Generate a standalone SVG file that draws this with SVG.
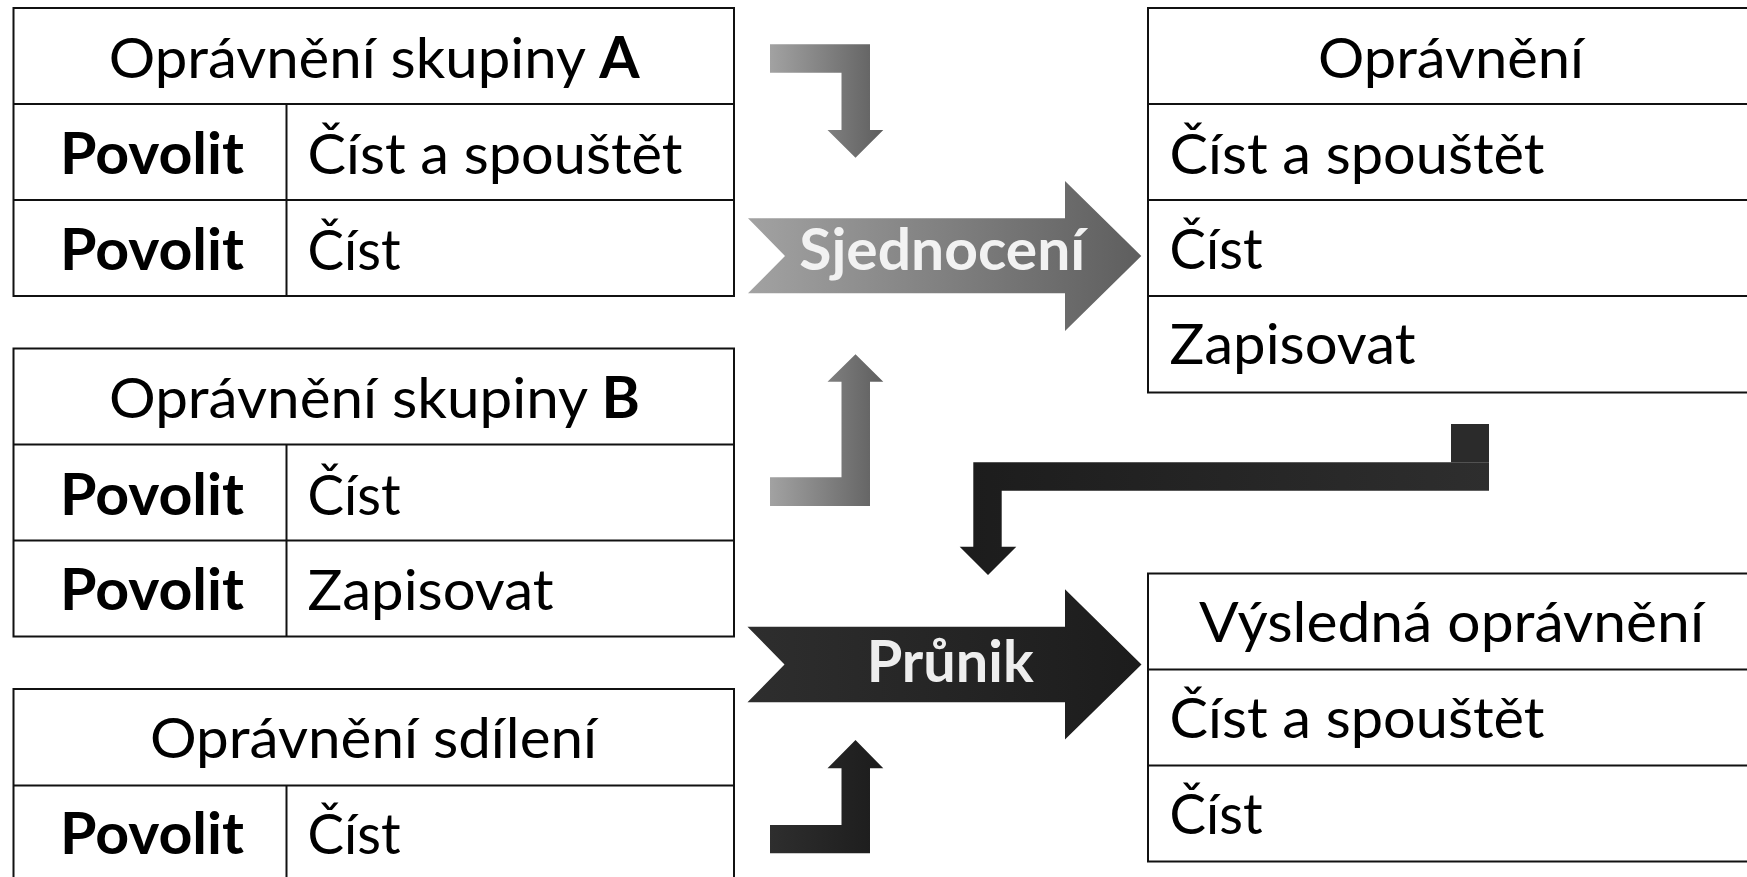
<svg xmlns="http://www.w3.org/2000/svg" width="1747" height="877" viewBox="0 0 1747 877">
  <defs>
    <linearGradient id="gLight" x1="0" y1="0" x2="1" y2="0">
      <stop offset="0" stop-color="#a2a2a2"/>
      <stop offset="1" stop-color="#5e5e5e"/>
    </linearGradient>
    <linearGradient id="gDark" x1="0" y1="0" x2="1" y2="0">
      <stop offset="0" stop-color="#2e2e2e"/>
      <stop offset="1" stop-color="#1c1c1c"/>
    </linearGradient>
    <linearGradient id="gDarkRev" x1="0" y1="0" x2="1" y2="0">
      <stop offset="0" stop-color="#1c1c1c"/>
      <stop offset="1" stop-color="#2e2e2e"/>
    </linearGradient>
    <style>
      .tbl { fill: #ffffff; stroke: #111111; stroke-width: 2; }
      .ln { stroke: #111111; stroke-width: 2; }
      .t { font-family: Lato, "Liberation Sans", sans-serif; font-size: 57px; fill: #000000; }
      .b { font-weight: bold; }
      .op { font-family: Lato, "Liberation Sans", sans-serif; font-size: 57px; font-weight: bold; }
    </style>
  </defs>
  <rect width="1747" height="877" fill="#ffffff"/>

  <!-- group A permissions -->
  <g id="table-group-a">
    <rect class="tbl" x="13.5" y="8" width="720.5" height="288"/>
    <line class="ln" x1="13.5" y1="104" x2="734" y2="104"/>
    <line class="ln" x1="13.5" y1="200" x2="734" y2="200"/>
    <line class="ln" x1="286.5" y1="104" x2="286.5" y2="296"/>
    <text class="t" x="108.7" y="77.5" textLength="531" lengthAdjust="spacingAndGlyphs">Oprávnění skupiny <tspan class="b">A</tspan></text>
    <text class="t b" x="60" y="174" textLength="184" lengthAdjust="spacingAndGlyphs">Povolit</text>
    <text class="t" x="307.5" y="174" textLength="375" lengthAdjust="spacingAndGlyphs">Číst a spouštět</text>
    <text class="t b" x="60" y="270" textLength="184" lengthAdjust="spacingAndGlyphs">Povolit</text>
    <text class="t" x="307.5" y="270" textLength="93" lengthAdjust="spacingAndGlyphs">Číst</text>
  </g>

  <!-- group B permissions -->
  <g id="table-group-b">
    <rect class="tbl" x="13.5" y="348.5" width="720.5" height="288"/>
    <line class="ln" x1="13.5" y1="444.5" x2="734" y2="444.5"/>
    <line class="ln" x1="13.5" y1="540.5" x2="734" y2="540.5"/>
    <line class="ln" x1="286.5" y1="444.5" x2="286.5" y2="636.5"/>
    <text class="t" x="109" y="418" textLength="531" lengthAdjust="spacingAndGlyphs">Oprávnění skupiny <tspan class="b">B</tspan></text>
    <text class="t b" x="60" y="514.5" textLength="184" lengthAdjust="spacingAndGlyphs">Povolit</text>
    <text class="t" x="307.5" y="514.5" textLength="93" lengthAdjust="spacingAndGlyphs">Číst</text>
    <text class="t b" x="60" y="610" textLength="184" lengthAdjust="spacingAndGlyphs">Povolit</text>
    <text class="t" x="307.5" y="610" textLength="246" lengthAdjust="spacingAndGlyphs">Zapisovat</text>
  </g>

  <!-- share permissions -->
  <g id="table-share">
    <rect class="tbl" x="13.5" y="689" width="720.5" height="194"/>
    <line class="ln" x1="13.5" y1="785.5" x2="734" y2="785.5"/>
    <line class="ln" x1="286.5" y1="785.5" x2="286.5" y2="883"/>
    <text class="t" x="150" y="757.5" textLength="447" lengthAdjust="spacingAndGlyphs">Oprávnění sdílení</text>
    <text class="t b" x="60" y="853.5" textLength="184" lengthAdjust="spacingAndGlyphs">Povolit</text>
    <text class="t" x="307.5" y="853.5" textLength="93" lengthAdjust="spacingAndGlyphs">Číst</text>
  </g>

  <!-- union result -->
  <g id="table-union">
    <rect class="tbl" x="1148" y="8" width="620" height="384.5"/>
    <line class="ln" x1="1148" y1="104" x2="1768" y2="104"/>
    <line class="ln" x1="1148" y1="200" x2="1768" y2="200"/>
    <line class="ln" x1="1148" y1="296" x2="1768" y2="296"/>
    <text class="t" x="1318" y="77.5" textLength="266" lengthAdjust="spacingAndGlyphs">Oprávnění</text>
    <text class="t" x="1169.5" y="173.5" textLength="375" lengthAdjust="spacingAndGlyphs">Číst a spouštět</text>
    <text class="t" x="1169.5" y="268.5" textLength="93" lengthAdjust="spacingAndGlyphs">Číst</text>
    <text class="t" x="1169.5" y="363.5" textLength="246" lengthAdjust="spacingAndGlyphs">Zapisovat</text>
  </g>

  <!-- final effective permissions -->
  <g id="table-result">
    <rect class="tbl" x="1148" y="573.5" width="620" height="288"/>
    <line class="ln" x1="1148" y1="669.5" x2="1768" y2="669.5"/>
    <line class="ln" x1="1148" y1="765.5" x2="1768" y2="765.5"/>
    <text class="t" x="1199" y="641.7" textLength="505" lengthAdjust="spacingAndGlyphs">Výsledná oprávnění</text>
    <text class="t" x="1169.5" y="738.3" textLength="375" lengthAdjust="spacingAndGlyphs">Číst a spouštět</text>
    <text class="t" x="1169.5" y="833.5" textLength="93" lengthAdjust="spacingAndGlyphs">Číst</text>
  </g>

  <!-- union operation -->
  <g id="op-union">
    <path d="M748,218.3 L1065,218.3 L1065,181 L1141.3,256 L1065,331 L1065,293.3 L748,293.3 L785,256 Z" fill="url(#gLight)"/>
    <text class="op" x="799.3" y="270" fill="#f2f2f2" textLength="286" lengthAdjust="spacingAndGlyphs">Sjednocení</text>
  </g>

  <!-- intersection operation -->
  <g id="op-intersect">
    <path d="M747.5,626.7 L1065,626.7 L1065,589.3 L1141.5,664.5 L1065,739.5 L1065,702.3 L747.5,702.3 L784.5,664.5 Z" fill="url(#gDark)"/>
    <text class="op" x="866.7" y="681.7" fill="#eeeeee" textLength="167" lengthAdjust="spacingAndGlyphs">Průnik</text>
  </g>

  <!-- bent connectors -->
  <g id="connectors">
    <path d="M770,44.3 H870 V130 H883.3 L855.5,157.7 L827.5,130 H841.5 V72.7 H770 Z" fill="url(#gLight)"/>
    <path d="M770,506 H870 V381.7 H883.3 L855.5,354.3 L827.5,381.7 H841.5 V477.3 H770 Z" fill="url(#gLight)"/>
    <path d="M770,853.3 H870 V768.3 H883.3 L855.5,740 L827.5,768.3 H841.5 V825 H770 Z" fill="url(#gDark)"/>
    <rect x="1451" y="424" width="38" height="38.3" fill="#2b2b2b"/>
    <path d="M1489,462.3 V490.7 H1001.7 V546.7 H1016.3 L988,575 L959.7,546.7 H973.3 V462.3 Z" fill="url(#gDarkRev)"/>
  </g>
</svg>
